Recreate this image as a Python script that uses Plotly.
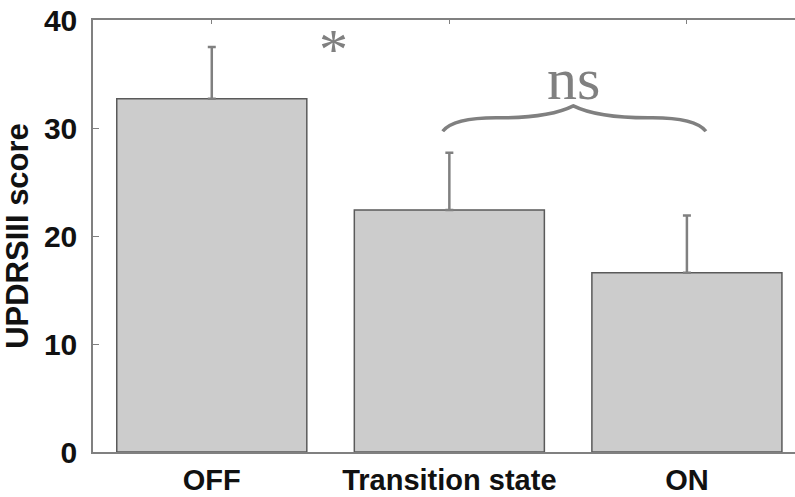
import plotly.graph_objects as go

categories = ["OFF", "Transition state", "ON"]
means = [32.7, 22.4, 16.6]
err_up = [4.8, 5.3, 5.3]
y_ticks = [0, 10, 20, 30, 40]

SANS = "Arial, 'Liberation Sans', sans-serif"
SERIF = "'Times New Roman', 'Liberation Serif', serif"
GRAY = "#808080"

x_idx = list(range(len(categories)))

fig = go.Figure()
fig.add_trace(go.Bar(
    x=x_idx, y=means, width=0.8,
    marker=dict(color="#cccccc", line=dict(color="#5a5a5a", width=1.5)),
    error_y=dict(type="data", symmetric=False, array=err_up,
                 arrayminus=[0] * len(means), color=GRAY,
                 thickness=2.5, width=4),
    showlegend=False,
))

# curly brace between "Transition state" and "ON" (data coords)
bx0, bxc, bx1 = 0.972, 1.522, 2.080
by_end, by_mid, by_peak = 29.7, 30.95, 32.05
brace = (f"M {bx0},{by_end} "
         f"Q {bx0+0.045},{by_mid} {bx0+0.225},{by_mid} "
         f"Q {bxc-0.105},{by_mid-0.05} {bxc},{by_peak} "
         f"Q {bxc+0.105},{by_mid-0.05} {bx1-0.225},{by_mid} "
         f"Q {bx1-0.045},{by_mid} {bx1},{by_end}")
fig.add_shape(type="path", path=brace, xref="x", yref="y",
              line=dict(color=GRAY, width=3.5))

fig.add_annotation(x=1.522, y=34.5, text="ns", showarrow=False,
                   font=dict(family=SERIF, size=60, color=GRAY),
                   xanchor="center", yanchor="middle")
fig.add_annotation(x=0.514, y=37.3, text="*", showarrow=False,
                   font=dict(family=SERIF, size=58, color=GRAY),
                   xanchor="center", yanchor="middle")

fig.update_layout(
    width=795, height=497,
    margin=dict(l=93, r=0, t=20, b=45, autoexpand=False),
    paper_bgcolor="white", plot_bgcolor="white",
    bargap=0.2,
    xaxis=dict(
        range=[-0.5, 2.455], automargin=False,
        tickmode="array", tickvals=x_idx, ticktext=categories,
        showline=True, linecolor=GRAY, linewidth=1.5, mirror="ticks",
        ticks="inside", ticklen=4, tickcolor=GRAY, tickwidth=1,
        layer="below traces",
        showgrid=False, zeroline=False,
        tickfont=dict(family=SANS, size=29, color="#111111", weight="bold"),
        ticklabelstandoff=1,
    ),
    yaxis=dict(
        range=[0, 40], automargin=False,
        tickmode="array", tickvals=y_ticks,
        showline=True, linecolor=GRAY, linewidth=1.5, mirror=False,
        ticks="inside", ticklen=6, tickcolor=GRAY, tickwidth=1,
        showgrid=False, zeroline=False,
        tickfont=dict(family=SANS, size=30, color="#111111", weight="bold"),
        ticklabelstandoff=8,
        title=dict(text="UPDRSIII score", standoff=12,
                   font=dict(family=SANS, size=31, color="#111111", weight="bold")),
    ),
)

fig.write_html("out.html")
